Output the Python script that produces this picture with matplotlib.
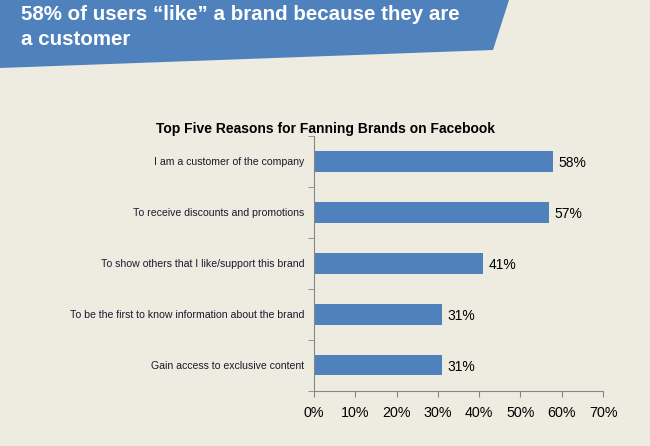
import numpy as np
import matplotlib.pyplot as plt
from matplotlib.patches import Polygon
from matplotlib.ticker import FuncFormatter

# データ
reasons = [
    "I am a customer of the company",
    "To receive discounts and promotions",
    "To show others that I like/support this brand",
    "To be the first to know information about the brand",
    "Gain access to exclusive content",
]
shares = [58, 57, 41, 31, 31]
xticks = [0, 10, 20, 30, 40, 50, 60, 70]

bg = "#EEEBE0"
blue = "#4F81BD"
grey = "#868686"
txt = "#1A1A2E"

plt.rcParams['font.family'] = ['Liberation Sans', 'DejaVu Sans']

fig = plt.figure(figsize=(6.5, 4.46), dpi=100)
fig.patch.set_facecolor(bg)

# 上部のバナー
W, H = 650, 446
pts = [(0, 0), (509, 0), (493, 50), (0, 68)]
banner = Polygon([(x / W, 1 - y / H) for x, y in pts], closed=True,
                 transform=fig.transFigure, facecolor=blue, edgecolor="none")
fig.patches.append(banner)
fig.text(21 / W, 1 - 20 / H, "58% of users \u201clike\u201d a brand because they are",
         color="white", fontsize=14.8, fontweight="bold", va="baseline")
fig.text(21 / W, 1 - 45 / H, "a customer",
         color="white", fontsize=14.8, fontweight="bold", va="baseline")

# グラフ本体
ax = fig.add_axes([314 / W, 1 - 390.5 / H, (603 - 314) / W, (390.5 - 136) / H])
ax.set_facecolor(bg)
y = np.arange(len(reasons))
ax.barh(y, shares, height=0.41, color=blue)
ax.set_ylim(len(reasons) - 0.5, -0.5)
ax.set_xlim(0, 70)

for yi, v in zip(y, shares):
    ax.text(v + 1.3, yi + 0.03, f"{v}%", va="center", ha="left", fontsize=10, color="black")

ax.set_yticks(y)
ax.set_yticklabels(reasons, fontsize=7.6, color=txt)
ax.set_yticks(np.arange(-0.5, len(reasons)), minor=True)
ax.tick_params(axis="y", which="major", length=0, pad=7)
ax.tick_params(axis="y", which="minor", length=4, color=grey, direction="out")
ax.set_xticks(xticks)
ax.xaxis.set_major_formatter(FuncFormatter(lambda v, p: f"{int(v)}%"))
ax.tick_params(axis="x", length=4, color=grey, direction="out", labelsize=10.3, pad=7)

for s in ["top", "right"]:
    ax.spines[s].set_visible(False)
for s in ["left", "bottom"]:
    ax.spines[s].set_color(grey)

fig.text(325 / W, 1 - 133 / H, "Top Five Reasons for Fanning Brands on Facebook",
         ha="center", va="baseline", fontsize=10, fontweight="bold", color="black")

fig.savefig("out.png", dpi=100, facecolor=bg)
